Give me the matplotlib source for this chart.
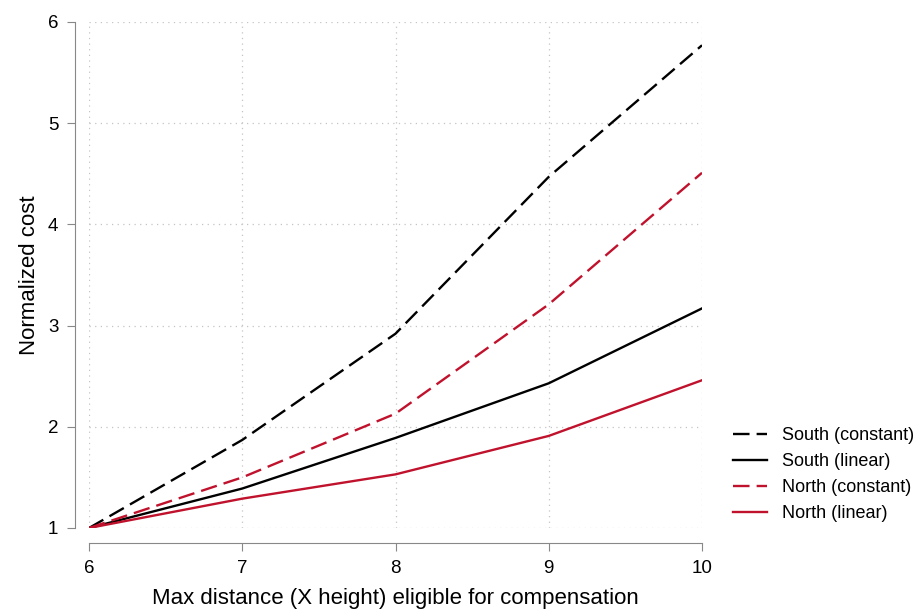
import matplotlib.pyplot as plt

plt.rcParams['font.family'] = ['Liberation Sans', 'DejaVu Sans']

x = [6, 7, 8, 9, 10]
south_constant = [1.0, 1.87, 2.92, 4.47, 5.77]
south_linear = [1.0, 1.39, 1.89, 2.43, 3.17]
north_constant = [1.0, 1.50, 2.13, 3.21, 4.51]
north_linear = [1.0, 1.29, 1.53, 1.91, 2.46]

red = "#c0122c"

fig = plt.figure(figsize=(9.14, 6.11), dpi=100)
ax = fig.add_axes([89 / 914, (611 - 528) / 611, (702 - 89) / 914, (528 - 22) / 611])

ax.plot(x, south_constant, color="black", lw=1.7, dashes=(7, 3), label="South (constant)")
ax.plot(x, south_linear, color="black", lw=1.7, label="South (linear)")
ax.plot(x, north_constant, color=red, lw=1.7, dashes=(7, 3), label="North (constant)")
ax.plot(x, north_linear, color=red, lw=1.7, label="North (linear)")

ax.set_xlim(6, 10)
ax.set_ylim(1, 6)
ax.set_xticks([6, 7, 8, 9, 10])
ax.set_yticks([1, 2, 3, 4, 5, 6])
ax.grid(True, color="#c4c4c4", linestyle=(0, (1, 3.5)), lw=0.9)
ax.set_axisbelow(True)

for s in ["top", "right"]:
    ax.spines[s].set_visible(False)
ax.spines["left"].set_position(("outward", 10))
ax.spines["bottom"].set_position(("outward", 11))
ax.spines["left"].set_color("#888888")
ax.spines["bottom"].set_color("#888888")
ax.tick_params(colors="#888888", labelcolor="black", labelsize=13.5, length=6, pad=6)

ax.set_xlabel("Max distance (X height) eligible for compensation", fontsize=16, labelpad=8)
ax.set_ylabel("Normalized cost", fontsize=16, labelpad=6)

ax.legend(loc="upper left", bbox_to_anchor=(733 / 914, 1 - 427 / 611),
          bbox_transform=fig.transFigure, frameon=False, fontsize=13,
          handlelength=1.9, handletextpad=0.8, labelspacing=0.5, borderpad=0,
          borderaxespad=0)

fig.savefig("out.png", dpi=100)
